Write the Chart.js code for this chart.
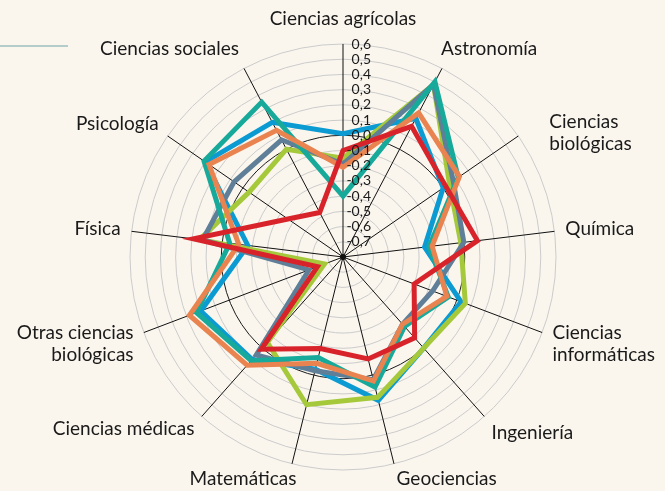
<!DOCTYPE html>
<html>
<head>
<meta charset="utf-8">
<script src="https://cdn.jsdelivr.net/npm/chart.js@4.4.0/dist/chart.umd.min.js"></script>
<style>
    html, body { margin: 0; padding: 0; background: #faf6ee; }
    #caja { width: 665px; height: 491px; }
</style>
</head>
<body>
<div id="caja"><canvas id="grafico-radar" width="665" height="491"></canvas></div>
<script>
// Categorías (en el sentido de las agujas del reloj, desde arriba)
const categorias = [
    ['Ciencias agrícolas'], ['Astronomía'], ['Ciencias', 'biológicas'], ['Química'],
    ['Ciencias', 'informáticas'], ['Ingeniería'], ['Geociencias'], ['Matemáticas'],
    ['Ciencias médicas'], ['Otras ciencias', 'biológicas'], ['Física'], ['Psicología'],
    ['Ciencias sociales']
];

// Valores de cada serie
const serieAzul      = [0.01, 0.23, 0.00, -0.26, 0.03, 0.00, 0.17, -0.04, 0.10, 0.20, -0.17, 0.30, 0.20];
const serieTurquesa  = [-0.40, 0.50, 0.12, -0.23, -0.06, -0.19, 0.08, -0.12, 0.11, 0.23, -0.05, 0.31, 0.35];
const serieNaranja   = [-0.21, 0.27, 0.13, -0.21, -0.07, -0.21, 0.04, -0.08, 0.15, 0.28, -0.11, 0.27, 0.14];
const seriePizarra   = [-0.19, 0.48, 0.08, 0.00, -0.17, -0.21, 0.03, -0.03, 0.06, -0.56, 0.13, 0.07, 0.07];
const serieVerde     = [-0.15, 0.48, 0.05, -0.02, 0.06, 0.00, 0.15, 0.20, -0.05, -0.67, 0.15, -0.05, 0.00];
const serieRoja      = [-0.10, 0.17, 0.02, 0.09, -0.30, -0.09, -0.11, -0.18, 0.01, -0.62, 0.19, -0.36, -0.47];

// Marcas de la escala radial
const escalaTicks = [-0.7, -0.6, -0.5, -0.4, -0.3, -0.2, -0.1, 0.0, 0.1, 0.2, 0.3, 0.4, 0.5, 0.6];

const FUENTE = 'Lato, "Open Sans", sans-serif';
const ALTO_LINEA = 22;
// pequeños ajustes de posición de algunos rótulos
const ajustesRotulos = { 0: [0, -3], 1: [-6, 0], 2: [22, 16], 6: [0, -6], 7: [7, -6], 8: [0, -4] };

function formatear(v) {
    return v.toFixed(1).replace('.', ',');
}

// Plugin: rótulos de categorías, valores de la escala, punto central y línea superior
const pluginRadar = {
    id: 'pluginRadar',
    afterDatasetsDraw(chart) {
        const escala = chart.scales.r;
        const c = chart.ctx;
        c.save();

        // punto central
        c.fillStyle = '#111';
        c.beginPath();
        c.arc(escala.xCenter, escala.yCenter, 3, 0, Math.PI * 2);
        c.fill();

        // valores de la escala
        c.font = '14px ' + FUENTE;
        c.fillStyle = '#1a1a1a';
        c.textAlign = 'right';
        c.textBaseline = 'middle';
        escalaTicks.forEach(v => {
            const y = escala.yCenter - escala.getDistanceFromCenterForValue(v);
            c.fillText(formatear(v), escala.xCenter + 28, y);
        });

        // rótulos de categorías
        c.font = '19px ' + FUENTE;
        categorias.forEach((lineas, i) => {
            const p = escala.getPointPosition(i, escala.drawingArea + 11);
            const dx = p.x - escala.xCenter;
            const dy = p.y - escala.yCenter;
            const largo = Math.hypot(dx, dy);
            const ux = dx / largo, uy = dy / largo;
            const w = Math.max(...lineas.map(t => c.measureText(t).width));
            const h = lineas.length * ALTO_LINEA;
            let cx = p.x;
            let cy = p.y + uy * h / 2;
            if (Math.abs(ux) > 0.05) cx += Math.sign(ux) * w / 2;
            const ajuste = ajustesRotulos[i] || [0, 0];
            cx += ajuste[0];
            cy += ajuste[1];
            let x0 = cx;
            if (ux > 0.05) { c.textAlign = 'left'; x0 = cx - w / 2; }
            else if (ux < -0.05) { c.textAlign = 'right'; x0 = cx + w / 2; }
            else c.textAlign = 'center';
            lineas.forEach((t, k) => c.fillText(t, x0, cy - h / 2 + ALTO_LINEA * (k + 0.5)));
        });

        // línea decorativa arriba a la izquierda
        c.strokeStyle = '#9dbfbf';
        c.lineWidth = 1.5;
        c.beginPath();
        c.moveTo(0, 46);
        c.lineTo(68, 46);
        c.stroke();

        c.restore();
    }
};

function serie(nombre, datos, color) {
    return {
        label: nombre,
        data: datos,
        borderColor: color,
        backgroundColor: color,
        borderWidth: 5,
        fill: false,
        pointRadius: 0,
        tension: 0
    };
}

const ctx = document.getElementById('grafico-radar').getContext('2d');
new Chart(ctx, {
    type: 'radar',
    data: {
        labels: categorias,
        // el primero se dibuja encima
        datasets: [
            serie('Serie 6', serieRoja, '#d8232a'),
            serie('Serie 5', serieNaranja, '#e9834f'),
            serie('Serie 4', serieTurquesa, '#17a99a'),
            serie('Serie 3', seriePizarra, '#5f7f98'),
            serie('Serie 2', serieVerde, '#a5c93b'),
            serie('Serie 1', serieAzul, '#0b9bd2')
        ]
    },
    options: {
        responsive: false,
        animation: false,
        layout: { padding: { left: 130, right: 109, top: 44, bottom: 21 } },
        plugins: {
            legend: { display: false },
            tooltip: { enabled: false }
        },
        elements: { line: { borderJoinStyle: 'miter' } },
        scales: {
            r: {
                min: -0.8,
                max: 0.6,
                ticks: { display: false, stepSize: 0.1 },
                grid: {
                    circular: true,
                    lineWidth: 1,
                    color: c => Math.abs(c.tick.value) < 1e-9 ? '#1a1a1a' : '#cbcbcb'
                },
                angleLines: { display: true, color: '#111', lineWidth: 1 },
                pointLabels: { display: false }
            }
        }
    },
    plugins: [pluginRadar]
});
</script>
</body>
</html>
